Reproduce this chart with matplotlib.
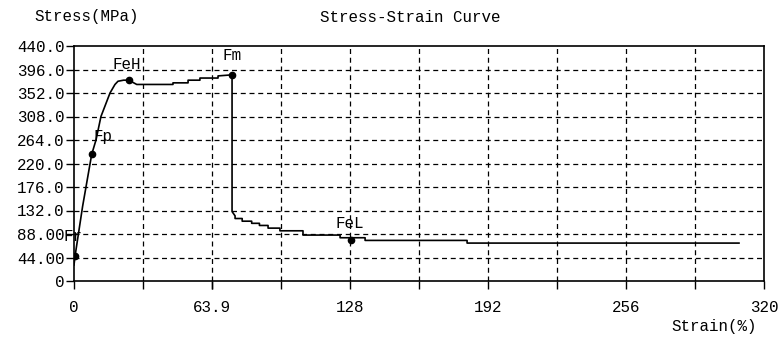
#!/usr/bin/env python3
"""Stress-strain curve of a tensile test."""

import matplotlib
matplotlib.use("Agg")
import matplotlib.pyplot as plt
import numpy as np

# curve (strain %, stress MPa)
strain = [0.0, 0.5, 4.0, 8.2, 10.2, 12.5, 16.7, 19.0, 20.4, 23.0, 25.4, 29.1,
          45.9, 45.9, 52.9, 52.9, 58.4, 58.4, 66.8, 66.8, 73.3,
          73.3, 74.7, 74.7, 78.0, 78.0, 82.4, 82.4, 86.0, 86.0, 90.0, 90.0,
          95.5, 95.5, 106.2, 106.2, 123.4, 123.4, 135.0, 135.0, 182.3, 182.3, 308.4]
stress = [30, 47, 140, 237, 264, 308, 352, 368, 374, 376, 376, 368,
          368, 371, 371, 376, 376, 380, 380, 384, 386,
          130, 122, 117, 117, 112, 112, 108, 108, 104, 104, 99,
          99, 94, 94, 86, 86, 81, 81, 76, 76, 71, 71]

# characteristic points
pt_names = ["Fr", "Fp", "FeH", "Fm", "FeL"]
pt_strain = [0.5, 8.2, 25.4, 73.3, 128.5]
pt_stress = [47, 237, 376, 386, 76]
pt_label_off = [(-8, 14), (1, 13), (-12, 11), (-7, 14), (-11, 12)]

x_ticks = [0, 63.9, 128, 192, 256, 320]
x_tick_labels = ["0", "63.9", "128", "192", "256", "320"]
x_grid = [32, 64, 96, 128, 160, 192, 224, 256, 288]
y_ticks = [0, 44, 88, 132, 176, 220, 264, 308, 352, 396, 440]
y_tick_labels = ["0", "44.00", "88.00", "132.0", "176.0", "220.0",
                 "264.0", "308.0", "352.0", "396.0", "440.0"]

plt.rcParams["font.family"] = ["Liberation Mono", "DejaVu Sans Mono"]
plt.rcParams["font.size"] = 11.4

fig = plt.figure(figsize=(7.81, 3.40), dpi=100)
ax = fig.add_axes([74 / 781, 1 - 281 / 340, 690 / 781, 235 / 340])

for gx in x_grid:
    ax.axvline(gx, color="black", lw=0.9, ls=(0, (4, 3)), zorder=1)
for gy in y_ticks[1:-1]:
    ax.axhline(gy, color="black", lw=0.9, ls=(0, (4, 3)), zorder=1)

ax.plot(strain, stress, color="black", lw=1.2, zorder=3)
ax.plot(pt_strain, pt_stress, "o", color="black", ms=4.5, zorder=4)
for name, sx, sy, (dx, dy) in zip(pt_names, pt_strain, pt_stress, pt_label_off):
    ax.annotate(name, (sx, sy), xytext=(dx, dy), textcoords="offset points",
                ha="left", va="center", zorder=5, annotation_clip=False)

ax.set_xlim(0, 320)
ax.set_ylim(0, 440)
ax.set_xticks(x_ticks)
ax.set_xticklabels(x_tick_labels)
ax.set_xticks(x_grid, minor=True)
ax.set_yticks(y_ticks)
ax.set_yticklabels(y_tick_labels)
ax.tick_params(axis="both", which="both", direction="out", length=6,
               width=1, colors="black", labelsize=11.4)
ax.tick_params(axis="x", pad=8)
ax.tick_params(axis="y", pad=1)
for s in ax.spines.values():
    s.set_linewidth(1.2)

fig.text(34 / 781, 1 - 17 / 340, "Stress(MPa)", va="center")
fig.text(410 / 781, 1 - 17 / 340, "Stress-Strain Curve", ha="center",
         va="center")
fig.text(757 / 781, 1 - 327 / 340, "Strain(%)", ha="right", va="center")

fig.savefig("out.png", dpi=100)
